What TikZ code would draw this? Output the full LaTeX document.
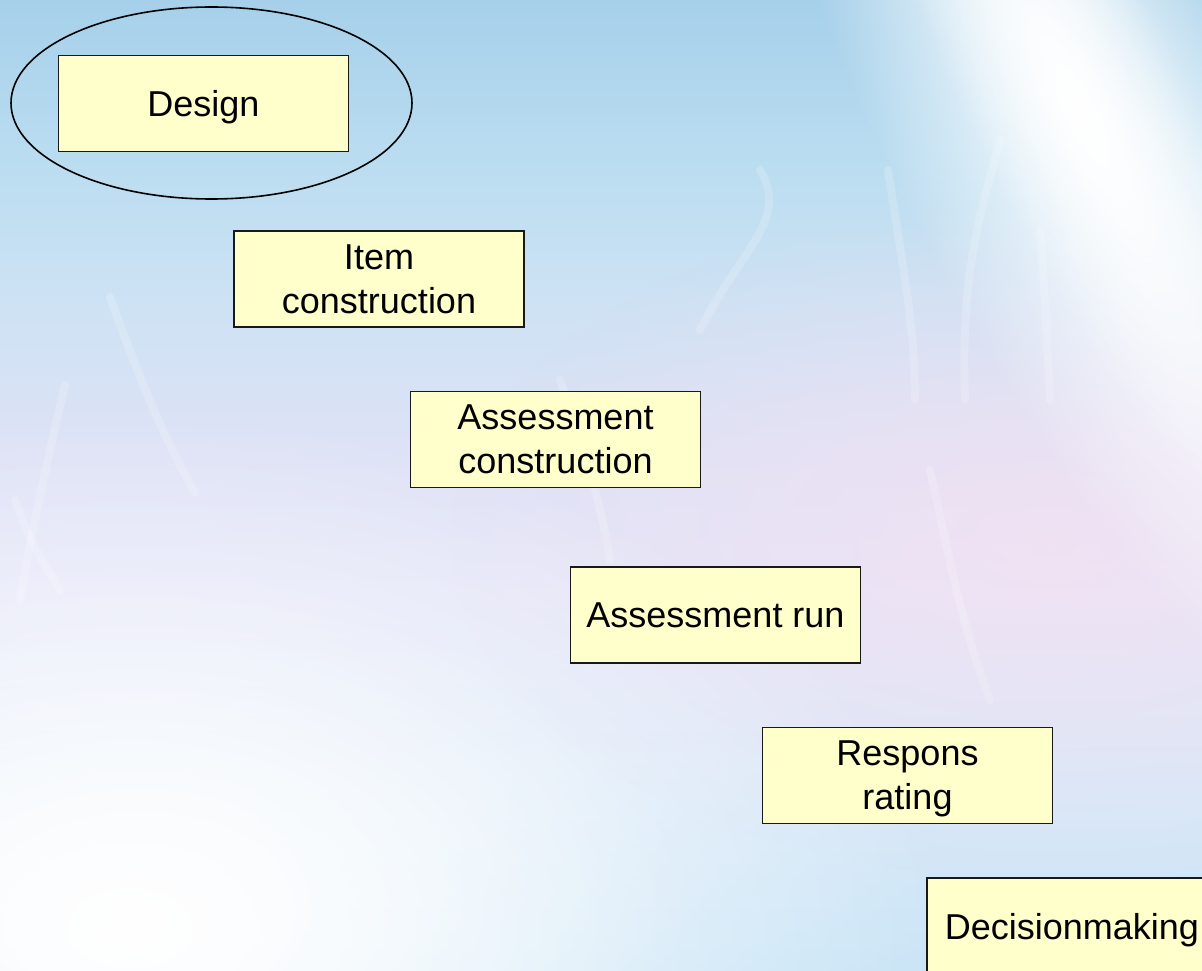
\documentclass[tikz,border=0pt]{standalone}
\usepackage{fontspec}
\setmainfont{Liberation Sans}
\usetikzlibrary{fadings}
\definecolor{boxfill}{RGB}{255,255,204}
\definecolor{bgA}{RGB}{166,208,234}
\definecolor{bgB}{RGB}{185,220,240}
\definecolor{bgC}{RGB}{205,226,244}
\definecolor{bgD}{RGB}{222,226,246}
\definecolor{bgE}{RGB}{228,230,248}
\definecolor{bgF}{RGB}{215,232,248}
\definecolor{bgG}{RGB}{200,228,246}
\definecolor{pinkish}{RGB}{248,224,240}
\pgfdeclareverticalshading{bgshade}{100bp}{color(0bp)=(bgG); color(25bp)=(bgG); color(33.8bp)=(bgF); color(44.1bp)=(bgE); color(51.8bp)=(bgD); color(59.6bp)=(bgC); color(67.3bp)=(bgB); color(75bp)=(bgA); color(100bp)=(bgA)}
\tikzfading[name=softglow, inner color=transparent!0, outer color=transparent!100]
\tikzset{
  stepbox/.style={draw=black!90, line width=1.7pt, fill=boxfill,
    minimum width=290pt, minimum height=96pt, inner sep=0pt,
    align=center, font=\fontsize{36}{44}\selectfont, text depth=0pt},
  streak/.style={white, line width=8pt, opacity=0.18, line cap=round},
  focusring/.style={draw=black, line width=1.6pt}
}
\begin{document}
\begin{tikzpicture}[x=1pt,y=-1pt]
\useasboundingbox (0,0) rectangle (1202,971);
\clip (0,0) rectangle (1202,971);
% background
\shade[shading=bgshade] (0,0) rectangle (1202,971);
% pinkish tint middle right
\fill[pinkish, opacity=0.6, path fading=softglow] (1050,540) ellipse (600 and 340);
% white glow bottom-left
\fill[white, path fading=softglow] (130,930) ellipse (820 and 520);
\fill[white, opacity=0.7, path fading=softglow] (140,910) ellipse (560 and 340);
% white streak top-right
\begin{scope}[transform canvas={shift={(1080pt,-110pt)}, rotate=-64}]
  \fill[white, path fading=softglow] (0,0) ellipse (700 and 200);
  \fill[white, opacity=0.8, path fading=softglow] (0,0) ellipse (480 and 110);
\end{scope}
% faint streaks
\draw[streak] (110,297) .. controls (140,380) and (160,430) .. (195,493);
\draw[streak] (65,385) .. controls (45,470) and (30,540) .. (20,600);
\draw[streak] (15,500) .. controls (30,540) .. (60,590);
\draw[streak] (888,170) .. controls (905,280) and (915,330) .. (915,400);
\draw[streak] (1000,140) .. controls (985,200) and (960,260) .. (965,400);
\draw[streak] (1040,230) .. controls (1045,300) .. (1050,400);
\draw[streak] (700,330) .. controls (740,250) and (790,220) .. (760,170);
\draw[streak] (560,380) .. controls (585,450) and (600,500) .. (610,560);
\draw[streak] (930,470) .. controls (950,560) and (960,620) .. (990,700);
% boxes
\node[stepbox] (design) at (203.5,103.5) {Design};
\node[stepbox] (item) at (379,279) {Item\\construction};
\node[stepbox] (asscon) at (555.5,439.5) {Assessment\\construction};
\node[stepbox] (assrun) at (715.5,615) {Assessment run};
\node[stepbox] (respons) at (907.5,775.5) {Respons\\rating};
\node[stepbox] (decision) at (1072,926) {Decisionmaking};
% ellipse around Design
\draw[focusring] (211.5,103) ellipse (200.5 and 96);
\end{tikzpicture}
\end{document}
